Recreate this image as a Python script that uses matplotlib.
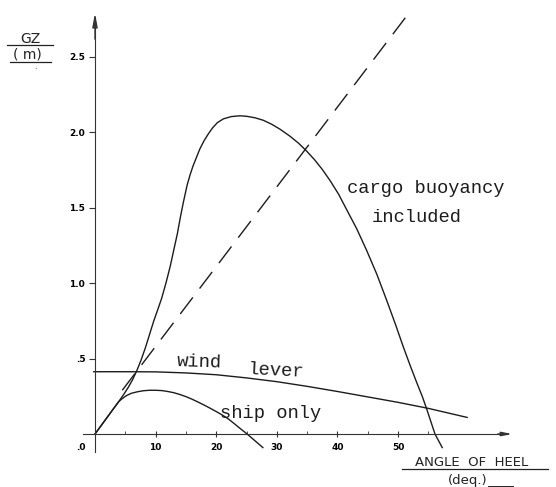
import numpy as np
import matplotlib
matplotlib.use('Agg')
import matplotlib.pyplot as plt

# angle of heel (deg) / GZ (m)
cargo_deg = [0, 1, 2, 3, 3.9, 4.7, 5.5, 6.2, 6.9, 7.6, 8.3, 9.0, 9.7, 10.4, 11.0, 11.7,
             12.4, 13.0, 13.6, 14.1, 14.6, 15.2, 15.7, 16.2, 16.8, 17.3, 18.0, 18.7,
             19.4, 20.2, 21.2, 22.5, 23.9, 25.0, 26.4, 27.8, 29.2, 30.5, 32.2, 33.6,
             34.9, 36.2, 37.5, 38.8, 40.2, 41.5, 43.2, 44.8, 46.5, 48.1, 49.6, 50.9,
             52.0, 53.1, 54.0, 54.7, 55.4, 56.1, 57.3]
cargo_gz = [0, 0.055, 0.11, 0.165, 0.214, 0.26, 0.31, 0.36, 0.42, 0.49, 0.57, 0.66, 0.75,
            0.83, 0.90, 1.00, 1.11, 1.22, 1.33, 1.44, 1.54, 1.65, 1.72, 1.78, 1.84, 1.89,
            1.945, 1.99, 2.03, 2.065, 2.09, 2.105, 2.11, 2.107, 2.097, 2.08, 2.053, 2.022,
            1.974, 1.928, 1.877, 1.82, 1.755, 1.68, 1.59, 1.49, 1.36, 1.22, 1.06, 0.89,
            0.725, 0.575, 0.455, 0.34, 0.25, 0.17, 0.085, 0.0, -0.09]

ship_deg = [0, 1, 2, 3, 3.9, 4.5, 5.2, 6, 7, 8, 9, 10, 11, 12, 13, 14, 15, 16, 17, 18,
            19, 20, 21, 22, 23, 24, 25.1, 26.4, 27.7]
ship_gz = [0, 0.055, 0.11, 0.165, 0.214, 0.235, 0.255, 0.27, 0.28, 0.287, 0.29, 0.29,
           0.288, 0.282, 0.274, 0.262, 0.248, 0.231, 0.212, 0.192, 0.171, 0.149, 0.126,
           0.1, 0.068, 0.035, 0.0, -0.045, -0.09]

wind_deg = [-0.2, 5, 10, 15, 20, 25, 30, 35, 40, 45, 50, 55, 61.4]
wind_gz = [0.413, 0.413, 0.412, 0.405, 0.393, 0.372, 0.347, 0.316, 0.282, 0.246, 0.21, 0.17, 0.11]

# dashed tangent line (end points)
tangent_deg = [4.5, 51.2]
tangent_gz = [0.29, 2.76]

xticks = [10, 20, 30, 40, 50]
yticks = [0.5, 1.0, 1.5, 2.0, 2.5]
ytick_labels = ['.5', '1.0', '1.5', '2.0', '2.5']

W, H = 556, 487
fig = plt.figure(figsize=(W / 100, H / 100), dpi=100)

# axes placed so that 0 deg sits at px 95 and GZ=0 at px 434
x0, x1 = -2.5, 70.5
y0, y1 = -0.2, 2.85
left = (95 + x0 * 6.06) / W
right = (95 + x1 * 6.06) / W
bottom = (H - (434 - y0 * 150.8)) / H
top = (H - (434 - y1 * 150.8)) / H
ax = fig.add_axes([left, bottom, right - left, top - bottom])
ax.set_xlim(x0, x1)
ax.set_ylim(y0, y1)

ink = '#1c1c1c'
ax.plot(cargo_deg, cargo_gz, color=ink, lw=1.0)
ax.plot(ship_deg, ship_gz, color=ink, lw=1.0)
ax.plot(wind_deg, wind_gz, color=ink, lw=1.0)
ax.plot(tangent_deg, tangent_gz, color=ink, lw=1.0, dashes=(15, 8))

# axes through the origin
for s in ['top', 'right']:
    ax.spines[s].set_visible(False)
ax.spines['left'].set_position(('data', 0))
ax.spines['bottom'].set_position(('data', 0))
ax.spines['left'].set_bounds(-0.12, 2.74)
ax.spines['bottom'].set_bounds(-2, 68)
ax.spines['left'].set_color('#333333')
ax.spines['bottom'].set_color('#333333')
ax.annotate('', xy=(0, 2.81), xytext=(0, 2.6),
            arrowprops=dict(arrowstyle='-|>,head_width=0.15,head_length=0.8', color='#333333', lw=1))
ax.annotate('', xy=(69.3, 0), xytext=(66, 0),
            arrowprops=dict(arrowstyle='-|>,head_width=0.12,head_length=0.6', color='#333333', lw=1))

tick_font = dict(family=['Liberation Sans Narrow', 'DejaVu Sans'], size=6.5, weight='bold')
ax.set_xticks(xticks)
ax.set_xticklabels([str(t) for t in xticks], **tick_font)
ax.set_xticks([5, 15, 25, 35, 45, 55], minor=True)
ax.set_yticks(yticks)
ax.set_yticklabels(ytick_labels, **tick_font)
ax.tick_params(axis='x', which='major', direction='inout', length=5, pad=4, color='#333333')
ax.tick_params(axis='x', which='minor', direction='in', length=2.5, color='#333333')
ax.tick_params(axis='y', direction='out', length=4, pad=3, color='#333333')
ax.text(-1.6, -0.09, '.0', ha='right', va='center', **tick_font)

# curve labels
mono = dict(family='Liberation Mono', size=13.5, color=ink)
ax.text(41.6, 1.60, 'cargo buoyancy', ha='left', va='baseline', **mono)
ax.text(45.7, 1.406, 'included', ha='left', va='baseline', **mono)
ax.text(13.5, 0.438, 'wind', ha='left', va='baseline', rotation=-2, **mono)
ax.text(25.2, 0.378, 'lever', ha='left', va='baseline', rotation=-3, **mono)
ax.text(20.6, 0.106, 'ship only', ha='left', va='baseline', **mono)


def fx(px):
    return px / W


def fy(py):
    return 1 - py / H


lab = dict(family='DejaVu Sans', color='#222222')
fig.text(fx(30), fy(43), 'GZ', ha='center', va='baseline', size=10, **lab)
fig.add_artist(plt.Line2D([fx(7), fx(53)], [fy(44.5), fy(44.5)], color='#222222', lw=0.9))
fig.text(fx(27), fy(59), '( m)', ha='center', va='baseline', size=10, **lab)
fig.add_artist(plt.Line2D([fx(10), fx(51)], [fy(62), fy(62)], color='#222222', lw=0.9))
fig.text(fx(35), fy(69), '.', ha='center', va='baseline', size=6, **lab)

fig.text(fx(472), fy(466), 'ANGLE  OF  HEEL', ha='center', va='baseline', size=9.5, **lab)
fig.add_artist(plt.Line2D([fx(402), fx(548)], [fy(468.5), fy(468.5)], color='#222222', lw=0.9))
fig.text(fx(468), fy(484), '(deq.)', ha='center', va='baseline', size=9.5, **lab)
fig.add_artist(plt.Line2D([fx(488), fx(513)], [fy(486), fy(486)], color='#222222', lw=0.7))

fig.savefig('out.png', dpi=100)
plt.close(fig)
